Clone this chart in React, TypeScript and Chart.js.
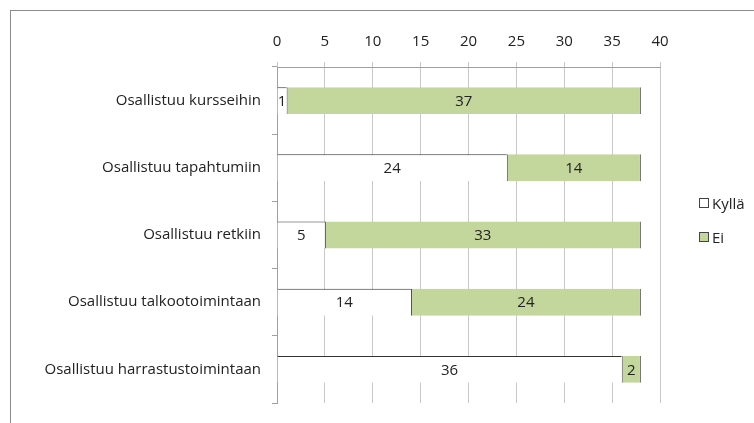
import React, { useEffect, useRef } from "react";
import { Chart, registerables } from "chart.js";

Chart.register(...registerables);

const categories = [
  "Osallistuu kursseihin",
  "Osallistuu tapahtumiin",
  "Osallistuu retkiin",
  "Osallistuu talkootoimintaan",
  "Osallistuu harrastustoimintaan",
];
const kyllaValues = [1, 24, 5, 14, 36];
const eiValues = [37, 14, 33, 24, 2];
const seriesNames = ["Kyllä", "Ei"];
const xTicks = [0, 5, 10, 15, 20, 25, 30, 35, 40];

const FONT = "'Open Sans', Lato, sans-serif";
const FS = 15;
const GREEN = "#c3d69b";

const valueLabels = {
  id: "valueLabels",
  afterDatasetsDraw(chart: any) {
    const ctx = chart.ctx;
    ctx.save();
    ctx.font = `${FS}px ${FONT}`;
    ctx.fillStyle = "#222";
    ctx.textAlign = "center";
    ctx.textBaseline = "middle";
    chart.data.datasets.forEach((ds: any, di: number) => {
      const meta = chart.getDatasetMeta(di);
      meta.data.forEach((el: any, i: number) => {
        const { x, y, base } = el.getProps(["x", "y", "base"], true);
        ctx.fillText(String(ds.data[i]), (x + base) / 2, y + 1);
      });
    });
    ctx.restore();
  },
};

export default function App() {
  const ref = useRef<HTMLCanvasElement>(null);
  useEffect(() => {
    if (!ref.current) return;
    const chart = new Chart(ref.current, {
      type: "bar",
      data: {
        labels: categories,
        datasets: [
          {
            label: seriesNames[0],
            data: kyllaValues,
            backgroundColor: "#ffffff",
            borderColor: "#333333",
            borderWidth: { top: 1, bottom: 0, left: 0, right: 0 },
            borderSkipped: false,
            barPercentage: 0.8,
            categoryPercentage: 0.5,
          },
          {
            label: seriesNames[1],
            data: eiValues,
            backgroundColor: GREEN,
            borderColor: "#444444",
            borderWidth: { top: 0, bottom: 0, left: 1, right: 1 },
            borderSkipped: false,
            barPercentage: 0.8,
            categoryPercentage: 0.5,
          },
        ],
      },
      options: {
        indexAxis: "y",
        animation: false,
        responsive: false,
        maintainAspectRatio: false,
        layout: { padding: { left: 0, right: 94, top: 0, bottom: 13 } },
        plugins: {
          legend: { display: false },
          tooltip: { enabled: false },
        },
        scales: {
          x: {
            position: "top",
            stacked: true,
            min: 0,
            max: 40,
            afterBuildTicks: (s: any) => {
              s.ticks = xTicks.map((v) => ({ value: v }));
            },
            afterFit: (s: any) => {
              s.height = 67;
            },
            ticks: {
              color: "#222",
              font: { family: FONT, size: FS },
              padding: 11,
            },
            grid: {
              color: "#c8c8c8",
              lineWidth: 1,
              tickLength: 5,
            },
            border: { color: "#a0a0a0" },
          },
          y: {
            stacked: true,
            afterFit: (s: any) => {
              s.width = 277;
            },
            ticks: {
              color: "#222",
              font: { family: FONT, size: FS },
              padding: 11,
            },
            grid: {
              drawOnChartArea: false,
              color: "#a0a0a0",
              tickLength: 5,
              offset: true,
            },
            border: { color: "#a0a0a0" },
          },
        },
      },
      plugins: [valueLabels],
    });
    return () => chart.destroy();
  }, []);

  return (
    <div style={{ position: "fixed", left: 0, top: 0, width: 754, height: 423, background: "#fff", overflow: "hidden" }}>
      <div
        style={{
          position: "absolute",
          left: 10,
          top: 10,
          width: 744,
          height: 413,
          borderLeft: "1px solid #8c8c8c",
          borderTop: "1px solid #8c8c8c",
          boxSizing: "border-box",
        }}
      />
      <canvas ref={ref} width={754} height={423} style={{ position: "absolute", left: 0, top: 0 }} />
      <div style={{ position: "absolute", left: 699, top: 195, font: `${FS}px ${FONT}`, color: "#222", lineHeight: "16px" }}>
        <div style={{ display: "flex", alignItems: "center", height: 16 }}>
          <span style={{ display: "inline-block", width: 8, height: 8, border: "1px solid #444", background: "#fff", marginRight: 3 }} />
          {seriesNames[0]}
        </div>
        <div style={{ display: "flex", alignItems: "center", height: 16, marginTop: 18 }}>
          <span style={{ display: "inline-block", width: 8, height: 8, border: "1px solid #444", background: GREEN, marginRight: 3 }} />
          {seriesNames[1]}
        </div>
      </div>
    </div>
  );
}
